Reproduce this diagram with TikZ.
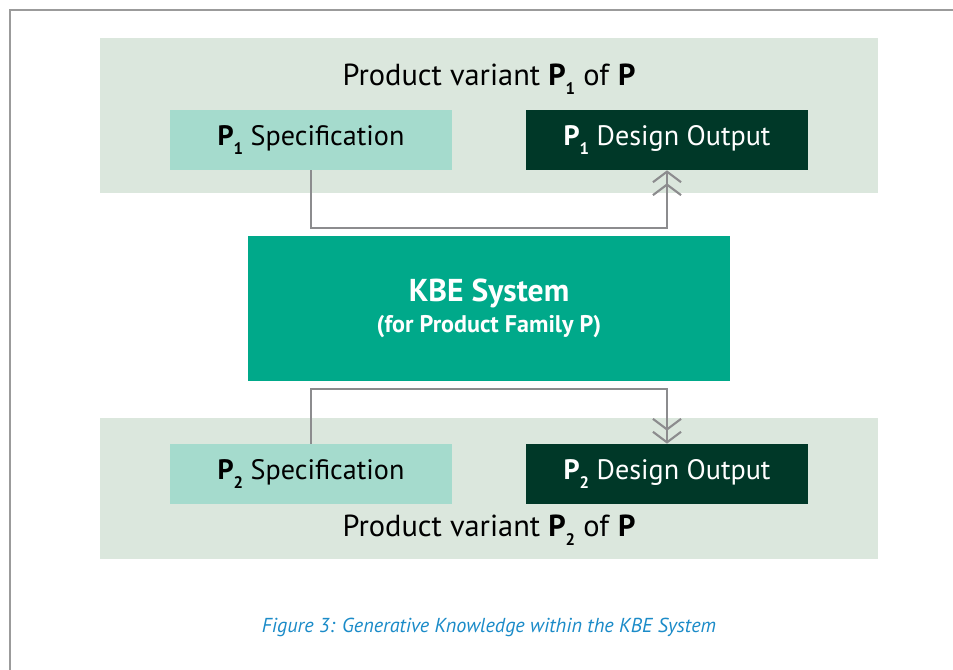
\documentclass[tikz,border=0pt]{standalone}
\usepackage{fontspec}
\setmainfont{PT Sans}
\usepackage{tikz}
\usetikzlibrary{arrows.meta,positioning}
\definecolor{bandgreen}{HTML}{DBE7DD}
\definecolor{specgreen}{HTML}{A5DBCD}
\definecolor{outgreen}{HTML}{003828}
\definecolor{kbegreen}{HTML}{00A98A}
\definecolor{linegray}{HTML}{8C8C8E}
\definecolor{framegray}{HTML}{9B9B9B}
\definecolor{capblue}{HTML}{1B8BC8}
\newcommand{\varsub}[1]{\raisebox{-0.6ex}{\fontsize{9.5}{10}\selectfont\bfseries #1}}

\begin{document}
\begin{tikzpicture}[
  band/.style={fill=bandgreen, minimum width=15.56cm, inner sep=0pt},
  specbox/.style={fill=specgreen, minimum width=5.64cm, minimum height=1.2cm,
               inner sep=0pt, font=\fontsize{16}{19}\selectfont},
  outbox/.style={fill=outgreen, text=white, minimum width=5.64cm, minimum height=1.2cm,
              inner sep=0pt, font=\fontsize{16}{19}\selectfont},
  bandtitle/.style={font=\fontsize{17.3}{20}\selectfont},
  arrow/.style={-{Straight Barb[length=6pt,width=16pt]Straight Barb[length=6pt,width=16pt]},
                draw=linegray, line width=1.2pt}
]
\useasboundingbox (0,0) rectangle (19.06,-13.40);

% frame
\draw[framegray, line width=1.1pt] (0.2,-13.6) -- (0.2,-0.2) -- (19.3,-0.2);

% --- Top: product variant 1 ---
\node[band, minimum height=3.10cm] (band1) at (9.78,-2.31) {};
\node[bandtitle] (title1) at (9.78,-1.58) {Product variant \textbf{P}\varsub{1} of \textbf{P}};
\node[specbox] (spec1) at (6.22,-2.80) {\textbf{P}\varsub{1} Specification};
\node[outbox] (out1) at (13.34,-2.80) {\textbf{P}\varsub{1} Design Output};

% --- Middle: KBE system ---
\node[fill=kbegreen, text=white, minimum width=9.64cm, minimum height=2.9cm, align=center]
  (kbe) at (9.78,-6.17)
  {{\fontsize{18}{22}\selectfont\bfseries KBE System}\\[3pt]
   {\fontsize{13.7}{15}\selectfont\bfseries (for Product Family P)}};

% --- Bottom: product variant 2 ---
\node[band, minimum height=2.82cm] (band2) at (9.78,-9.77) {};
\node[specbox] (spec2) at (6.22,-9.48) {\textbf{P}\varsub{2} Specification};
\node[outbox] (out2) at (13.34,-9.48) {\textbf{P}\varsub{2} Design Output};
\node[bandtitle] (title2) at (9.78,-10.60) {Product variant \textbf{P}\varsub{2} of \textbf{P}};

% Arrows
\draw[arrow] (spec1.south) -- ++(0,-1.16) -| (out1.south);
\draw[arrow] (spec2.north) -- ++(0,1.10) -| (out2.north);

% Caption
\node[font=\fontsize{11.5}{14}\selectfont\itshape, text=capblue] (caption) at (9.78,-12.54)
  {Figure 3: Generative Knowledge within the KBE System};

\end{tikzpicture}
\end{document}
